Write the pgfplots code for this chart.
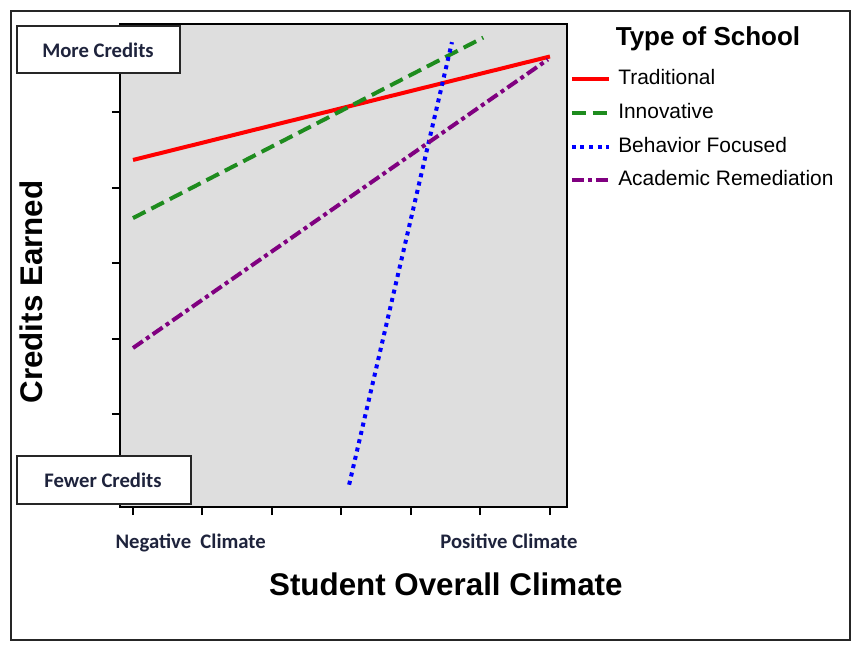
\documentclass[border=0pt]{standalone}
\usepackage{pgfplots}
\pgfplotsset{compat=1.18}
\usepackage{fontspec}
\setmainfont{Liberation Sans}
\newfontfamily\calibri{Carlito}
\definecolor{bggray}{RGB}{222,222,222}
\definecolor{cgreen}{RGB}{30,140,30}
\definecolor{cpurple}{RGB}{128,0,128}
\definecolor{navytxt}{RGB}{30,35,60}
\begin{document}
\begin{tikzpicture}
\begin{scope}[x=0.75pt,y=-0.75pt]
\path[fill=white] (0,0) rectangle (851,650);
\draw[line width=1.5pt,black!85] (11,11) rectangle (850,640);
\end{scope}
\begin{axis}[
  at={(90pt,-380.25pt)}, anchor=south west,
  scale only axis, width=335.25pt, height=362.25pt,
  xmin=-0.187, xmax=6.245, ymin=-0.225, ymax=6.17,
  axis background/.style={fill=bggray},
  axis line style={line width=1.6pt,black},
  xtick={0,...,6}, ytick={0,...,6},
  xticklabels={}, yticklabels={},
  tick align=outside, major tick length=6pt,
  tick style={line width=1.5pt,black},
  xtick pos=bottom, ytick pos=left,
  extra x ticks={0.83,5.41},
  extra x tick labels={Negative\ \ Climate,Positive Climate},
  extra x tick style={major tick length=0pt, tick style={draw=none},
    xticklabel style={font=\calibri\bfseries\fontsize{15.5}{17}\selectfont, text=navytxt, yshift=-16.5pt}},
  xlabel={Student Overall Climate},
  ylabel={Credits Earned},
  xlabel style={font=\bfseries\fontsize{23.5}{26}\selectfont, at={(axis description cs:0.729,-0.161)}, anchor=center},
  ylabel style={font=\bfseries\fontsize{23.5}{26}\selectfont, at={(axis description cs:-0.199,0.445)}, anchor=center, rotate=0},
  legend style={at={(axis description cs:1.006,0.905)}, anchor=north west, draw=none, fill=none,
    font=\fontsize{15.7}{17}\selectfont, inner sep=0pt, row sep=11.2pt,
    nodes={inner sep=0pt, text height=11pt, text depth=3pt}},
  legend cell align=left,
  legend image code/.code={\draw[#1] (0pt,0pt) -- (27.75pt,0pt);},
]
\addplot[red, line width=3pt] coordinates {(0,4.37) (6,5.74)};
\addlegendentry{\hspace{5.5pt}Traditional}
\addplot[cgreen, line width=3pt, dash pattern=on 10.5pt off 5pt] coordinates {(0,3.60) (5.04,5.99)};
\addlegendentry{\hspace{5.5pt}Innovative}
\addplot[blue, line width=3pt, dash pattern=on 3pt off 3.4pt] coordinates {(3.11,0.07) (4.59,5.93)};
\addlegendentry{\hspace{5.5pt}Behavior Focused}
\addplot[cpurple, line width=3pt, dash pattern=on 9pt off 3pt on 3pt off 3pt] coordinates {(0,1.88) (5.97,5.70)};
\addlegendentry{\hspace{5.5pt}Academic Remediation}
\end{axis}
\begin{scope}[x=0.75pt,y=-0.75pt]
\draw[line width=1.2pt,black!85,fill=white] (17,26) rectangle (180,73);
\node[font=\calibri\bfseries\fontsize{15.5}{17}\selectfont, text=navytxt] at (98,50) {More Credits};
\draw[line width=1.2pt,black!85,fill=white] (17,456) rectangle (191,504);
\node[font=\calibri\bfseries\fontsize{15.5}{17}\selectfont, text=navytxt] at (103,480) {Fewer Credits};
\node[font=\bfseries\fontsize{19.5}{22}\selectfont] at (708,39) {Type of School};
\end{scope}
\end{tikzpicture}
\end{document}
